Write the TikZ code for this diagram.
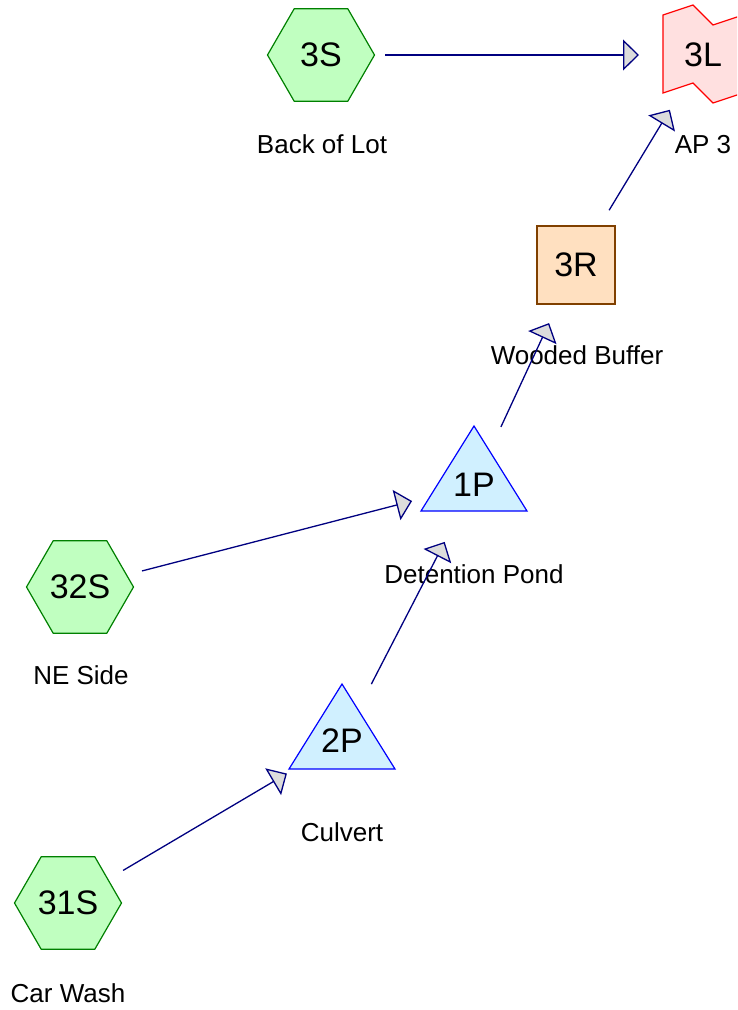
\documentclass[tikz,border=0pt]{standalone}
\usepackage{fontspec}
\setmainfont{Liberation Sans}
\usetikzlibrary{shapes.geometric,arrows.meta}

\definecolor{subfill}{HTML}{C0FFC0}
\definecolor{subdraw}{HTML}{008000}
\definecolor{pondfill}{HTML}{D0F0FF}
\definecolor{ponddraw}{HTML}{0000FF}
\definecolor{reachfill}{HTML}{FFE0C0}
\definecolor{reachdraw}{HTML}{804000}
\definecolor{linkfill}{HTML}{FFE0E0}
\definecolor{linkdraw}{HTML}{FF0000}
\definecolor{flowline}{HTML}{000080}
\definecolor{tipfill}{HTML}{DCDCDC}

\tikzset{
  idtext/.style={font=\fontsize{34}{40}\selectfont, text=black, inner sep=0pt},
  subcatch/.style={idtext, regular polygon, regular polygon sides=6, shape border rotate=0,
    minimum size=107pt, fill=subfill, draw=subdraw, line width=1.2pt},
  pondnode/.style={idtext, minimum size=1pt},
  pondshape/.style={fill=pondfill, draw=ponddraw, line width=1.2pt, line join=miter},
  reachnode/.style={idtext, rectangle, minimum size=78pt, fill=reachfill, draw=reachdraw, line width=1.2pt},
  linknode/.style={idtext, minimum size=1pt},
  linkshape/.style={fill=linkfill, draw=linkdraw, line width=1.2pt},
  caption/.style={font=\fontsize{26}{30}\selectfont, text=black, anchor=base, inner sep=0pt},
  flow/.style={draw=flowline, line width=1.3pt,
    -{Triangle[length=16pt, width=31pt, fill=tipfill]},
    shorten <=64pt, shorten >=64pt},
}

\begin{document}
\begin{tikzpicture}[x=1pt, y=-1pt]
\useasboundingbox (0,0) rectangle (737,1010);
\clip (0,0) rectangle (737,1010);

% ponds and the link: shapes drawn first, labelled nodes on top
\draw[pondshape, shift={(474,485)}] (0,-59) -- (53,26) -- (-53,26) -- cycle;
\draw[pondshape, shift={(342,741)}] (0,-57) -- (53,28) -- (-53,28) -- cycle;
\draw[linkshape, shift={(703,55)}] (-40,-40) -- (-10,-50) -- (10,-30) -- (40,-40)
  -- (40,38) -- (10,48) -- (-10,28) -- (-40,38) -- cycle;

% nodes
\node[subcatch] (s3) at (321,55) {3S};
\node[subcatch] (s32) at (80,587) {32S};
\node[subcatch] (s31) at (68,903) {31S};
\node[pondnode] (p1) at (474,485) {1P};
\node[pondnode] (p2) at (342,741) {2P};
\node[reachnode] (r3) at (576,265) {3R};
\node[linknode] (l3) at (703,55) {3L};

% captions
\node[caption] at (322,153) {Back of Lot};
\node[caption] at (703,153) {AP 3};
\node[caption] at (577,364) {Wooded Buffer};
\node[caption] at (474,583) {Detention Pond};
\node[caption] at (81,684) {NE Side};
\node[caption] at (342,841) {Culvert};
\node[caption] at (68,1002) {Car Wash};

% flow links
\draw[flow] (s3.center) -- (l3.center);
\draw[flow] (r3.center) -- (l3.center);
\draw[flow] (p1.center) -- (r3.center);
\draw[flow] (s32.center) -- (p1.center);
\draw[flow] (p2.center) -- (p1.center);
\draw[flow] (s31.center) -- (p2.center);
\end{tikzpicture}
\end{document}
